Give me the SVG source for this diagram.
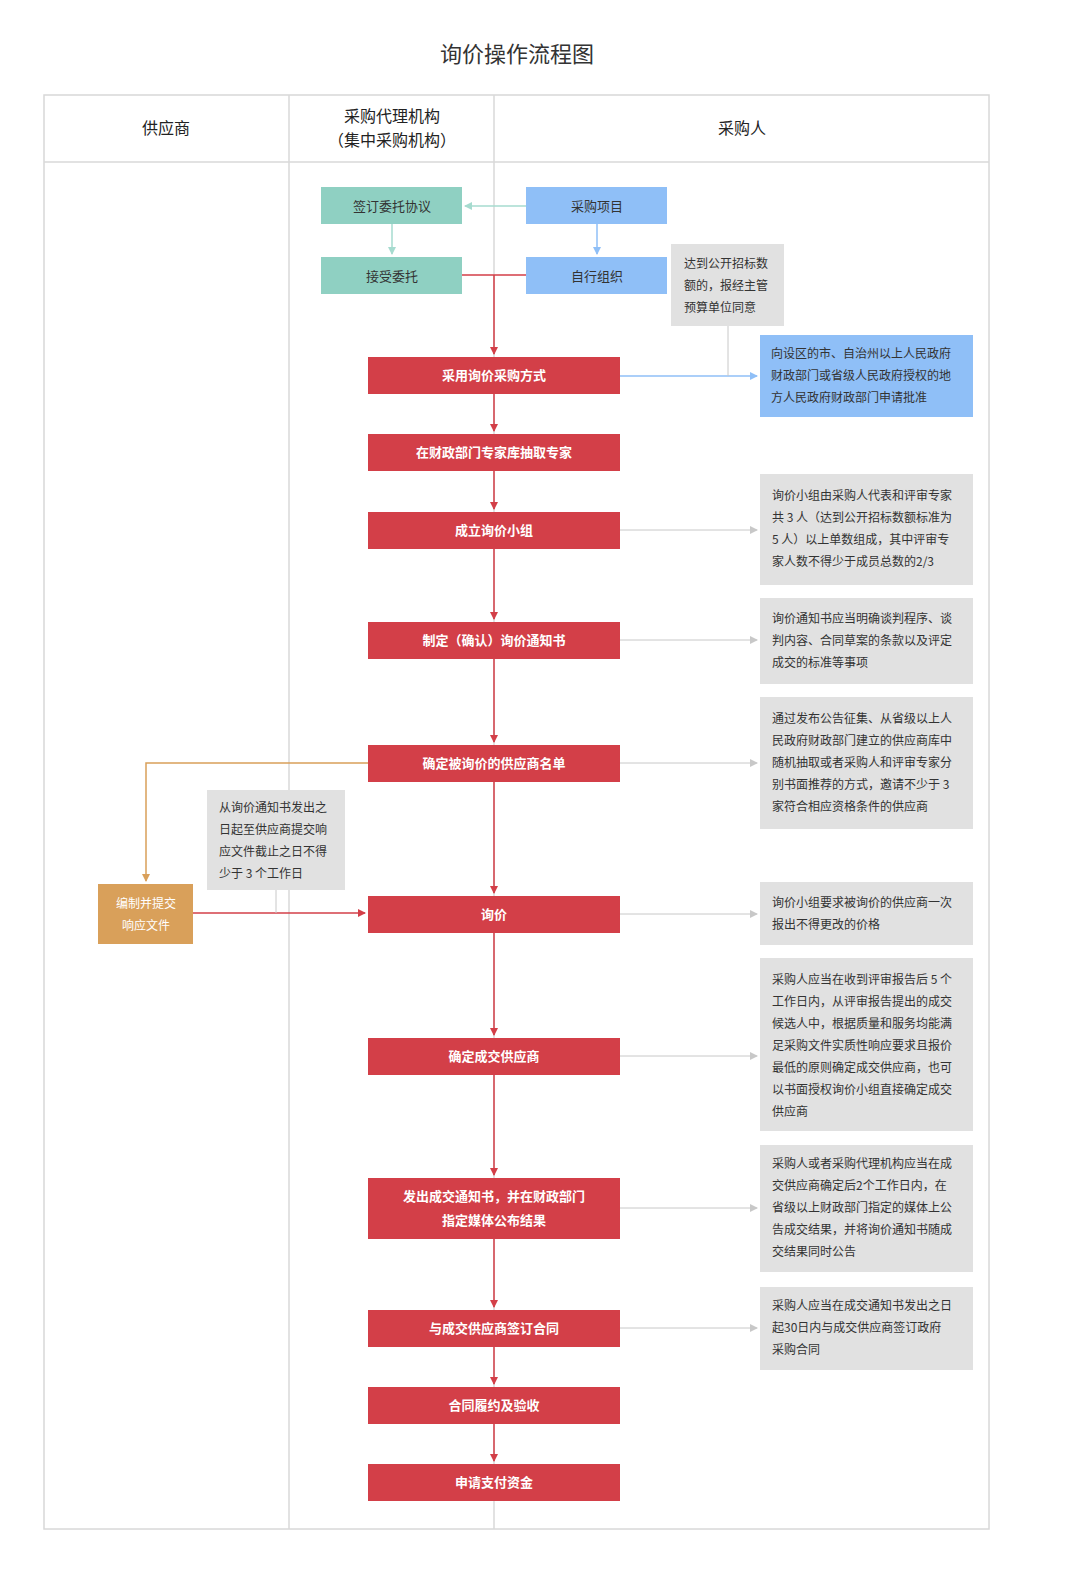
<svg xmlns="http://www.w3.org/2000/svg" width="1080" height="1589" viewBox="0 0 1080 1589">
<style>
text{font-family:"Noto Sans CJK SC","Noto Sans",sans-serif;}
.r{fill:#d33f48}.g{fill:#e1e1e1}.t{fill:#8fd0c2}.b{fill:#8fbff7}.o{fill:#d9a05a}
.w{fill:#fff;font-size:13px;font-weight:bold;text-anchor:middle}
.d{fill:#333;font-size:12px}
.c{fill:#333;font-size:13px;text-anchor:middle}
.h{fill:#222;font-size:16px;text-anchor:middle}
.lr{stroke:#d33f48;stroke-width:1.5;fill:none}
.lg{stroke:#c8c8c8;stroke-width:1;fill:none}
.lb{stroke:#8fbff7;stroke-width:1.5;fill:none}
.lt{stroke:#a6dbcf;stroke-width:1.5;fill:none}
.lo{stroke:#d9a05a;stroke-width:1.5;fill:none}
</style>
<defs>
<marker id="ar" markerWidth="8" markerHeight="8" refX="7" refY="4" orient="auto" markerUnits="userSpaceOnUse"><path d="M0,0L8,4L0,8z" fill="#d33f48"/></marker>
<marker id="ag" markerWidth="8" markerHeight="8" refX="7" refY="4" orient="auto" markerUnits="userSpaceOnUse"><path d="M0,0L8,4L0,8z" fill="#c8c8c8"/></marker>
<marker id="ab" markerWidth="8" markerHeight="8" refX="7" refY="4" orient="auto" markerUnits="userSpaceOnUse"><path d="M0,0L8,4L0,8z" fill="#8fbff7"/></marker>
<marker id="at" markerWidth="8" markerHeight="8" refX="7" refY="4" orient="auto" markerUnits="userSpaceOnUse"><path d="M0,0L8,4L0,8z" fill="#a6dbcf"/></marker>
<marker id="ao" markerWidth="8" markerHeight="8" refX="7" refY="4" orient="auto" markerUnits="userSpaceOnUse"><path d="M0,0L8,4L0,8z" fill="#d9a05a"/></marker>
</defs>
<rect width="1080" height="1589" fill="#fff"/>
<text x="517" y="62" font-size="22" fill="#333" text-anchor="middle" style="font-family:'Noto Sans CJK SC',sans-serif">询价操作流程图</text>
<g id="lanes" fill="none" stroke="#d8d8d8" stroke-width="1.5">
<rect x="44" y="95" width="945" height="1434"/>
<line x1="44" y1="162" x2="989" y2="162"/>
<line x1="289" y1="95" x2="289" y2="1529"/>
<line x1="494" y1="95" x2="494" y2="1529"/>
</g>
<text class="h" x="166" y="134">供应商</text>
<text class="h" x="392" y="122">采购代理机构</text>
<text class="h" x="392" y="146">（集中采购机构）</text>
<text class="h" x="742" y="134">采购人</text>
<g id="connectors">
<path class="lt" d="M526,206H465" marker-end="url(#at)"/>
<path class="lt" d="M392,224V254" marker-end="url(#at)"/>
<path class="lb" d="M597,224V254" marker-end="url(#ab)"/>
<path class="lr" d="M462,275H526M494,275V354" marker-end="url(#ar)"/>
<path class="lb" d="M620,376H757" marker-end="url(#ab)"/>
<path class="lg" d="M728,326V376"/>
<path class="lr" d="M494,394V431" marker-end="url(#ar)"/>
<path class="lr" d="M494,471V509" marker-end="url(#ar)"/>
<path class="lr" d="M494,549V619" marker-end="url(#ar)"/>
<path class="lr" d="M494,659V742" marker-end="url(#ar)"/>
<path class="lr" d="M494,782V893" marker-end="url(#ar)"/>
<path class="lr" d="M494,933V1035" marker-end="url(#ar)"/>
<path class="lr" d="M494,1075V1175" marker-end="url(#ar)"/>
<path class="lr" d="M494,1239V1307" marker-end="url(#ar)"/>
<path class="lr" d="M494,1347V1384" marker-end="url(#ar)"/>
<path class="lr" d="M494,1424V1461" marker-end="url(#ar)"/>
<path class="lg" d="M620,530H757" marker-end="url(#ag)"/>
<path class="lg" d="M620,640H757" marker-end="url(#ag)"/>
<path class="lg" d="M620,763H757" marker-end="url(#ag)"/>
<path class="lg" d="M620,914H757" marker-end="url(#ag)"/>
<path class="lg" d="M620,1056H757" marker-end="url(#ag)"/>
<path class="lg" d="M620,1208H757" marker-end="url(#ag)"/>
<path class="lg" d="M620,1328H757" marker-end="url(#ag)"/>
<path class="lo" d="M368,763H146V881" marker-end="url(#ao)"/>
<path class="lr" d="M193,913H365" marker-end="url(#ar)"/>
<path class="lg" d="M276,890V913"/>
</g>
<g id="n1"><rect class="t" x="321" y="187" width="141" height="37"/><text class="c" x="392" y="211">签订委托协议</text></g>
<g id="n2"><rect class="t" x="321" y="257" width="141" height="37"/><text class="c" x="392" y="281">接受委托</text></g>
<g id="n3"><rect class="b" x="526" y="187" width="141" height="37"/><text class="c" x="597" y="211">采购项目</text></g>
<g id="n4"><rect class="b" x="526" y="257" width="141" height="37"/><text class="c" x="597" y="281">自行组织</text></g>
<g id="n5"><rect class="g" x="671" y="244" width="113" height="82"/><text class="d" x="684" y="268">达到公开招标数</text><text class="d" x="684" y="290">额的，报经主管</text><text class="d" x="684" y="312">预算单位同意</text></g>
<g id="n6"><rect class="b" x="760" y="335" width="213" height="82"/><text class="d" x="771" y="358">向设区的市、自治州以上人民政府</text><text class="d" x="771" y="380">财政部门或省级人民政府授权的地</text><text class="d" x="771" y="402">方人民政府财政部门申请批准</text></g>
<g id="r1"><rect class="r" x="368" y="357" width="252" height="37"/><text class="w" x="494" y="380">采用询价采购方式</text></g>
<g id="r2"><rect class="r" x="368" y="434" width="252" height="37"/><text class="w" x="494" y="457">在财政部门专家库抽取专家</text></g>
<g id="r3"><rect class="r" x="368" y="512" width="252" height="37"/><text class="w" x="494" y="535">成立询价小组</text></g>
<g id="r4"><rect class="r" x="368" y="622" width="252" height="37"/><text class="w" x="494" y="645">制定（确认）询价通知书</text></g>
<g id="r5"><rect class="r" x="368" y="745" width="252" height="37"/><text class="w" x="494" y="768">确定被询价的供应商名单</text></g>
<g id="r6"><rect class="r" x="368" y="896" width="252" height="37"/><text class="w" x="494" y="919">询价</text></g>
<g id="r7"><rect class="r" x="368" y="1038" width="252" height="37"/><text class="w" x="494" y="1061">确定成交供应商</text></g>
<g id="r8"><rect class="r" x="368" y="1178" width="252" height="61"/><text class="w" x="494" y="1201">发出成交通知书，并在财政部门</text><text class="w" x="494" y="1225">指定媒体公布结果</text></g>
<g id="r9"><rect class="r" x="368" y="1310" width="252" height="37"/><text class="w" x="494" y="1333">与成交供应商签订合同</text></g>
<g id="r10"><rect class="r" x="368" y="1387" width="252" height="37"/><text class="w" x="494" y="1410">合同履约及验收</text></g>
<g id="r11"><rect class="r" x="368" y="1464" width="252" height="37"/><text class="w" x="494" y="1487">申请支付资金</text></g>
<g id="g1"><rect class="g" x="760" y="474" width="213" height="111"/><text class="d" x="772" y="500">询价小组由采购人代表和评审专家</text><text class="d" x="772" y="522">共 3 人（达到公开招标数额标准为</text><text class="d" x="772" y="544">5 人）以上单数组成，其中评审专</text><text class="d" x="772" y="566">家人数不得少于成员总数的2/3</text></g>
<g id="g2"><rect class="g" x="760" y="598" width="213" height="86"/><text class="d" x="772" y="623">询价通知书应当明确谈判程序、谈</text><text class="d" x="772" y="645">判内容、合同草案的条款以及评定</text><text class="d" x="772" y="667">成交的标准等事项</text></g>
<g id="g3"><rect class="g" x="760" y="697" width="213" height="132"/><text class="d" x="772" y="723">通过发布公告征集、从省级以上人</text><text class="d" x="772" y="745">民政府财政部门建立的供应商库中</text><text class="d" x="772" y="767">随机抽取或者采购人和评审专家分</text><text class="d" x="772" y="789">别书面推荐的方式，邀请不少于 3</text><text class="d" x="772" y="811">家符合相应资格条件的供应商</text></g>
<g id="g4"><rect class="g" x="760" y="882" width="213" height="63"/><text class="d" x="772" y="907">询价小组要求被询价的供应商一次</text><text class="d" x="772" y="929">报出不得更改的价格</text></g>
<g id="g5"><rect class="g" x="760" y="958" width="213" height="173"/><text class="d" x="772" y="984">采购人应当在收到评审报告后 5 个</text><text class="d" x="772" y="1006">工作日内，从评审报告提出的成交</text><text class="d" x="772" y="1028">候选人中，根据质量和服务均能满</text><text class="d" x="772" y="1050">足采购文件实质性响应要求且报价</text><text class="d" x="772" y="1072">最低的原则确定成交供应商，也可</text><text class="d" x="772" y="1094">以书面授权询价小组直接确定成交</text><text class="d" x="772" y="1116">供应商</text></g>
<g id="g6"><rect class="g" x="760" y="1145" width="213" height="127"/><text class="d" x="772" y="1168">采购人或者采购代理机构应当在成</text><text class="d" x="772" y="1190">交供应商确定后2个工作日内，在</text><text class="d" x="772" y="1212">省级以上财政部门指定的媒体上公</text><text class="d" x="772" y="1234">告成交结果，并将询价通知书随成</text><text class="d" x="772" y="1256">交结果同时公告</text></g>
<g id="g7"><rect class="g" x="760" y="1287" width="213" height="83"/><text class="d" x="772" y="1310">采购人应当在成交通知书发出之日</text><text class="d" x="772" y="1332">起30日内与成交供应商签订政府</text><text class="d" x="772" y="1354">采购合同</text></g>
<g id="g8"><rect class="g" x="207" y="790" width="138" height="100"/><text class="d" x="219" y="812">从询价通知书发出之</text><text class="d" x="219" y="834">日起至供应商提交响</text><text class="d" x="219" y="856">应文件截止之日不得</text><text class="d" x="219" y="878">少于 3 个工作日</text></g>
<g id="o1"><rect class="o" x="98" y="884" width="95" height="60"/><text x="146" y="908" fill="#fff" font-size="12" text-anchor="middle">编制并提交</text><text x="146" y="930" fill="#fff" font-size="12" text-anchor="middle">响应文件</text></g>
</svg>
